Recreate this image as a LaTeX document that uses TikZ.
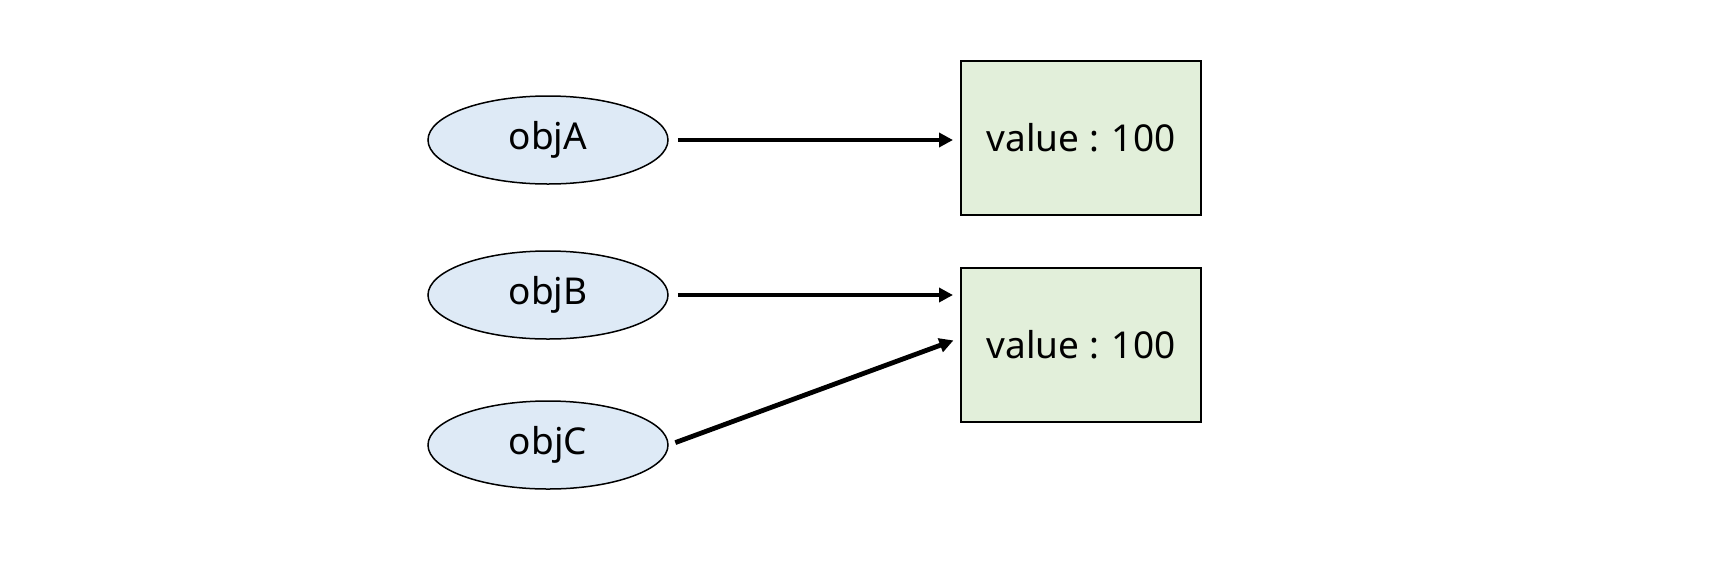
\documentclass[tikz,border=0pt]{standalone}
\usepackage{fontspec}
\setmainfont{Noto Sans}
\usetikzlibrary{arrows.meta,shapes.geometric,calc}
\definecolor{objblue}{HTML}{DEEAF6}
\definecolor{valgreen}{HTML}{E2EFDA}
\begin{document}
\begin{tikzpicture}[x=1pt,y=-1pt,
  obj/.style={ellipse, draw=black, line width=1.5pt, fill=objblue,
    minimum width=240pt, minimum height=88pt, inner sep=0pt,
    font=\fontsize{37}{42}\selectfont},
  val/.style={rectangle, draw=black, line width=2pt, fill=valgreen,
    minimum width=240pt, minimum height=154pt, inner sep=0pt,
    font=\fontsize{37}{42}\selectfont},
  ref/.style={-{Triangle[length=14pt,width=14pt]}, line width=4.8pt,
    shorten <=9pt, shorten >=7pt}]
\useasboundingbox (0,0) rectangle (1734,563);
\node[obj] (A) at (548,140) {objA};
\node[obj] (B) at (548,295) {objB};
\node[obj] (C) at (548,445) {objC};
\node[val] (VA) at (1081,138) {value : 100};
\node[val] (VB) at (1081,345) {value : 100};
\coordinate (ct) at ($(VB.west)+(0,-7)$);
\draw[ref] (A.east) -- (A.east -| VA.west);
\draw[ref] (B.east) -- (B.east -| VB.west);
\draw[ref, shorten <=7pt] (C.east) -- (ct);
\end{tikzpicture}
\end{document}
